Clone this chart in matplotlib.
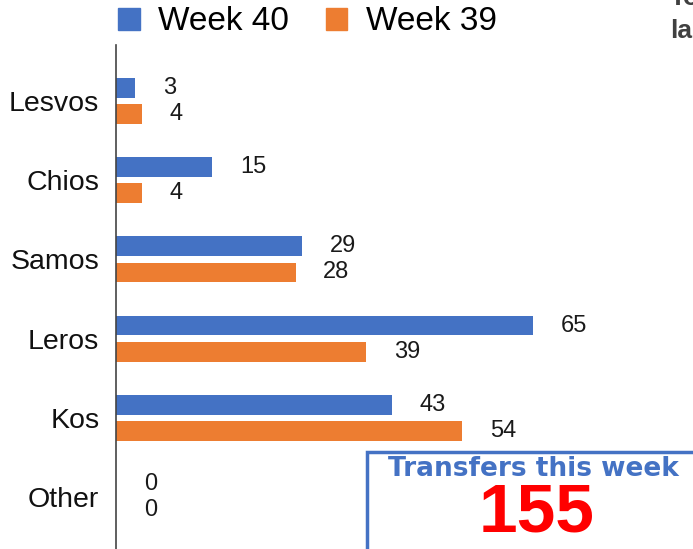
import matplotlib.pyplot as plt
import matplotlib.patches as mpatches
import numpy as np

islands = ["Lesvos", "Chios", "Samos", "Leros", "Kos", "Other"]
week40 = [3, 15, 29, 65, 43, 0]
week39 = [4, 4, 28, 39, 54, 0]
total_label = "Transfers this week"
total_value = "155"

W, H = 693, 549
blue = "#4472C4"
orange = "#ED7D31"
plt.rcParams["font.family"] = ["Liberation Sans", "DejaVu Sans"]


def fx(px):
    return px / W


def fy(py):
    return 1 - py / H


fig = plt.figure(figsize=(W / 100, H / 100), dpi=100)
ax = fig.add_axes([fx(116), 0, 1 - fx(116), fy(45)])

y = np.arange(len(islands))
h = 0.25
off = 0.165
b40 = ax.barh(y - off, week40, height=h, color=blue)
b39 = ax.barh(y + off, week39, height=h, color=orange)

for bars, vals in [(b40, week40), (b39, week39)]:
    for bar, v in zip(bars, vals):
        ax.annotate(str(v), (v, bar.get_y() + bar.get_height() / 2),
                    xytext=(20, 0), textcoords="offset points",
                    ha="left", va="center", fontsize=17, color="#1a1a1a")

ax.set_xlim(0, 90)
ax.set_ylim(5.657, -0.707)
ax.set_yticks(y)
ax.set_yticklabels(islands, fontsize=20.5, color="#111111")
ax.tick_params(axis="y", length=0, pad=12)
ax.set_xticks([])
for s in ["top", "right", "bottom"]:
    ax.spines[s].set_visible(False)
ax.spines["left"].set_color("#444444")
ax.spines["left"].set_linewidth(1.2)

# legend
handles = [mpatches.Patch(color=blue, label="Week 40"),
           mpatches.Patch(color=orange, label="Week 39")]
fig.legend(handles=handles, loc="center left", bbox_to_anchor=(fx(118), fy(22)),
           ncol=2, frameon=False, fontsize=24, handlelength=0.65, handleheight=0.65,
           handletextpad=0.55, columnspacing=1.1, borderaxespad=0, borderpad=0)

# partially visible title at top right
fig.text(fx(670), fy(-2), "To", fontsize=19, fontweight="bold", color="#404040",
         ha="left", va="center")
fig.text(fx(670), fy(31), "last", fontsize=19, fontweight="bold", color="#404040",
         ha="left", va="center")

# transfers box
box = mpatches.Rectangle((fx(367), fy(570)), fx(340), fy(452) - fy(570),
                         transform=fig.transFigure, facecolor="white",
                         edgecolor=blue, linewidth=2.5, zorder=5)
fig.add_artist(box)
fig.text(fx(533), fy(469), total_label, fontsize=19, fontweight="bold", color=blue,
         family="DejaVu Sans", ha="center", va="center", zorder=6)
fig.text(fx(537), fy(513), total_value, fontsize=50, fontweight="bold", color="#FF0000",
         ha="center", va="center", zorder=6)

fig.savefig("out.png", dpi=100)
